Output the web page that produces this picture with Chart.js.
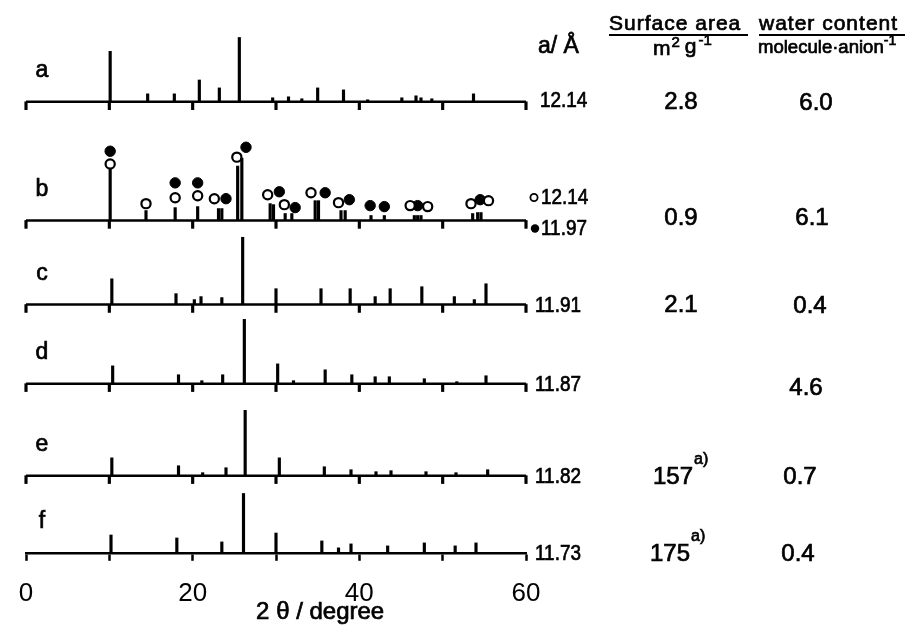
<!DOCTYPE html>
<html>
<head>
<meta charset="utf-8">
<script src="https://cdn.jsdelivr.net/npm/chart.js@4.4.1/dist/chart.umd.min.js"></script>
<style>
  html, body { margin: 0; padding: 0; background: #fff; }
  #wrap { width: 923px; height: 626px; }
</style>
</head>
<body>
<div id="wrap"><canvas id="xrd"></canvas></div>
<script>
// 2θ positions (degree) and stick heights (arb. units)
const posA = [10.1, 14.6, 17.8, 20.8, 23.2, 25.6, 29.6, 31.5, 33.1, 35.0, 38.1, 41.0, 45.1, 46.8, 47.4, 48.7, 53.7];
const intA = [51, 8, 8, 22, 14, 65, 4, 5, 3, 14, 12, 2, 4, 6, 4, 3, 8];

const posB = [10.1, 14.4, 17.9, 20.6, 23.1, 23.5, 25.4, 25.9, 29.3, 29.7, 31.1, 31.9, 34.7, 35.1, 37.8, 38.3, 41.4, 43.0, 46.6, 47.0, 47.4, 53.6, 54.2, 54.6];
const intB = [52, 10, 13, 14, 12, 12, 55, 63, 17, 16, 7, 7, 20, 20, 10, 10, 5, 5, 5, 5, 5, 7, 8, 8];
// b: peaks of the a = 12.14 phase (open) and the a = 11.97 phase (filled)
const posBOpen = [10.1, 14.4, 17.9, 20.6, 22.6, 25.3, 29.0, 31.0, 34.2, 37.5, 46.1, 48.2, 53.4, 55.5];
const hBOpen = [57, 17, 23, 25, 22, 64, 26, 16, 28, 18, 15, 14, 17, 20];
const posBFilled = [10.1, 17.9, 20.6, 24.0, 26.4, 30.4, 32.3, 35.9, 38.8, 41.3, 43.0, 47.0, 54.5];
const hBFilled = [70, 38, 38, 22, 74, 29, 13, 28, 21, 15, 14, 15, 21];

const posC = [10.3, 18.0, 20.2, 21.0, 23.5, 26.0, 30.0, 35.4, 38.9, 41.9, 43.7, 47.5, 51.4, 53.8, 55.2];
const intC = [26, 11, 5, 8, 7, 68, 16, 16, 16, 8, 16, 18, 8, 5, 21];

const posD = [10.4, 18.3, 21.1, 23.6, 26.2, 30.2, 32.1, 35.9, 39.1, 41.9, 43.6, 47.8, 51.7, 55.2];
const intD = [18, 9, 3, 9, 65, 20, 3, 14, 9, 7, 7, 5, 2, 8];

const posE = [10.3, 18.3, 21.2, 24.0, 26.3, 30.4, 35.8, 39.0, 42.0, 43.8, 48.0, 51.6, 55.4];
const intE = [18, 10, 3, 8, 66, 18, 9, 6, 4, 5, 4, 3, 6];

const posF = [10.2, 18.1, 23.5, 26.1, 30.0, 35.5, 37.5, 39.0, 43.4, 47.8, 51.5, 54.0];
const intF = [18, 15, 11, 60, 20, 12, 5, 9, 7, 10, 7, 10];

const xTicks = [0, 10, 20, 30, 40, 50, 60];
const samples = ['a', 'b', 'c', 'd', 'e', 'f'];
const latticeA = ['12.14', '12.14', '11.97', '11.91', '11.87', '11.82', '11.73'];
const surfaceArea = ['2.8', '0.9', '2.1', '', '157', '175'];
const waterContent = ['6.0', '6.1', '0.4', '4.6', '0.7', '0.4'];

// vertical offset of each pattern's baseline (stacking)
const offsets = [456, 336, 251, 171, 78, 0];
const TICK = 8;

const sticks = [[posA, intA], [posB, intB], [posC, intC], [posD, intD], [posE, intE], [posF, intF]];

const datasets = [];
sticks.forEach(([pos, inten], i) => {
  const off = offsets[i];
  datasets.push({
    type: 'bar',
    data: pos.map((x, k) => ({ x: x, y: [off, off + inten[k]] })),
    backgroundColor: '#000', borderWidth: 0, barThickness: 2.5, grouped: false, clip: false
  });
  if (off > 0) {
    // baseline and its downward ticks for the stacked patterns
    datasets.push({
      type: 'line',
      data: [{ x: 0, y: off }, { x: 60, y: off }],
      borderColor: '#000', borderWidth: 2.5, pointRadius: 0, clip: false
    });
    datasets.push({
      type: 'bar',
      data: xTicks.map(x => ({ x: x, y: [off - TICK, off] })),
      backgroundColor: '#000', borderWidth: 0, barThickness: 2.5, grouped: false, clip: false
    });
  }
});
datasets.push({
  type: 'scatter',
  data: posBOpen.map((x, k) => ({ x: x, y: offsets[1] + hBOpen[k] })),
  pointStyle: 'circle', pointRadius: 4.6, pointBorderWidth: 2.2,
  pointBackgroundColor: '#fff', pointBorderColor: '#000', clip: false
});
datasets.push({
  type: 'scatter',
  data: posBFilled.map((x, k) => ({ x: x, y: offsets[1] + hBFilled[k] })),
  pointStyle: 'circle', pointRadius: 5.2, pointBorderWidth: 1,
  pointBackgroundColor: '#000', pointBorderColor: '#000', clip: false
});

const FONT = '"Liberation Sans", Arial, sans-serif';
function txt(ctx, s, x, y, size, align, sx) {
  ctx.save();
  ctx.font = size + 'px ' + FONT;
  ctx.textAlign = align || 'left';
  ctx.textBaseline = 'middle';
  ctx.translate(x, y);
  ctx.scale(sx || 1, 1);
  ctx.fillText(s, 0, 0);
  // scanned print looks a bit heavier than the regular face
  ctx.lineWidth = 0.7;
  ctx.strokeText(s, 0, 0);
  ctx.restore();
}
function width(ctx, s, size) {
  ctx.font = size + 'px ' + FONT;
  return ctx.measureText(s).width;
}

const annotations = {
  id: 'annotations',
  afterDraw(chart) {
    const ctx = chart.ctx;
    const ys = chart.scales.y, xs = chart.scales.x;
    const rowY = offsets.map(o => ys.getPixelForValue(o));
    ctx.save();
    ctx.fillStyle = '#000';
    ctx.strokeStyle = '#000';

    samples.forEach((s, i) => txt(ctx, s, 42, rowY[i] - 31, 23, 'center'));

    // column headers
    txt(ctx, 'a/ Å', 538, 47, 23, 'left');
    ctx.save();
    ctx.letterSpacing = '1px';
    txt(ctx, 'Surface area', 609, 24, 21, 'left');
    txt(ctx, 'water content', 759, 24, 21, 'left');
    ctx.restore();
    ctx.lineWidth = 2;
    ctx.beginPath();
    ctx.moveTo(609, 35); ctx.lineTo(748, 35);
    ctx.moveTo(759, 35); ctx.lineTo(905, 35);
    ctx.stroke();

    let x = 653;
    txt(ctx, 'm', x, 49, 21); x += width(ctx, 'm', 21);
    txt(ctx, '2', x + 1, 43, 15); x += width(ctx, '2', 15) + 6;
    txt(ctx, 'g', x, 47, 21); x += width(ctx, 'g', 21) + 2;
    txt(ctx, '-1', x, 41, 15);

    x = 758;
    txt(ctx, 'molecule·anion', x, 48, 18, 'left', 1.03);
    x += width(ctx, 'molecule·anion', 18) * 1.03;
    txt(ctx, '-1', x, 41, 14);

    // lattice constant column
    const LS = 22, SX = 0.86;
    txt(ctx, latticeA[0], 540, rowY[0] - 1, LS, 'left', SX);
    ctx.lineWidth = 1.8;
    ctx.beginPath(); ctx.arc(534, rowY[1] - 23, 3.6, 0, Math.PI * 2); ctx.stroke();
    txt(ctx, latticeA[1], 541, rowY[1] - 23, LS, 'left', SX);
    ctx.beginPath(); ctx.arc(535, rowY[1] + 8, 4.2, 0, Math.PI * 2); ctx.fill();
    txt(ctx, latticeA[2], 541, rowY[1] + 8, LS, 'left', SX);
    for (let i = 2; i < 6; i++) txt(ctx, latticeA[i + 1], 535, rowY[i] + 1, LS, 'left', SX);

    // surface area column
    const VS = 24;
    [0, 1, 2].forEach(i => txt(ctx, surfaceArea[i], 681, i === 1 ? rowY[1] - 2 : rowY[i] + 1, VS, 'center'));
    [4, 5].forEach(i => {
      const left = i === 4 ? 653 : 650;
      txt(ctx, surfaceArea[i], left, rowY[i] + 2, VS, 'left');
      const w = width(ctx, surfaceArea[i], VS);
      txt(ctx, 'a)', left + w + 1, rowY[i] - 16, 16, 'left');
    });

    // water content column
    const wx = [816, 812, 810, 806, 800, 798];
    waterContent.forEach((s, i) => txt(ctx, s, wx[i], i === 1 ? rowY[1] - 2 : rowY[i] + (i === 3 ? 5 : 2), VS, 'center'));

    // axis title
    txt(ctx, '2 θ / degree', xs.getPixelForValue(35.3), 612, 24, 'center');
    ctx.restore();
  }
};

new Chart(document.getElementById('xrd'), {
  type: 'bar',
  data: { datasets: datasets },
  plugins: [annotations],
  options: {
    responsive: true,
    maintainAspectRatio: false,
    animation: false,
    layout: { padding: { left: 26, right: 397, top: 0, bottom: 0 } },
    plugins: { legend: { display: false }, tooltip: { enabled: false } },
    scales: {
      x: {
        type: 'linear', min: 0, max: 60, offset: false,
        border: { display: true, color: '#000', width: 2.5 },
        grid: { display: true, offset: false, drawOnChartArea: false, drawTicks: true, tickLength: TICK, tickWidth: 2.5, tickColor: '#000' },
        ticks: {
          stepSize: 10, padding: 17, color: '#000', maxRotation: 0,
          font: { family: FONT, size: 26 },
          callback: v => (v % 20 === 0 ? String(v) : '')
        }
      },
      y: { type: 'linear', min: 0, max: 552, display: false }
    }
  }
});
</script>
</body>
</html>
